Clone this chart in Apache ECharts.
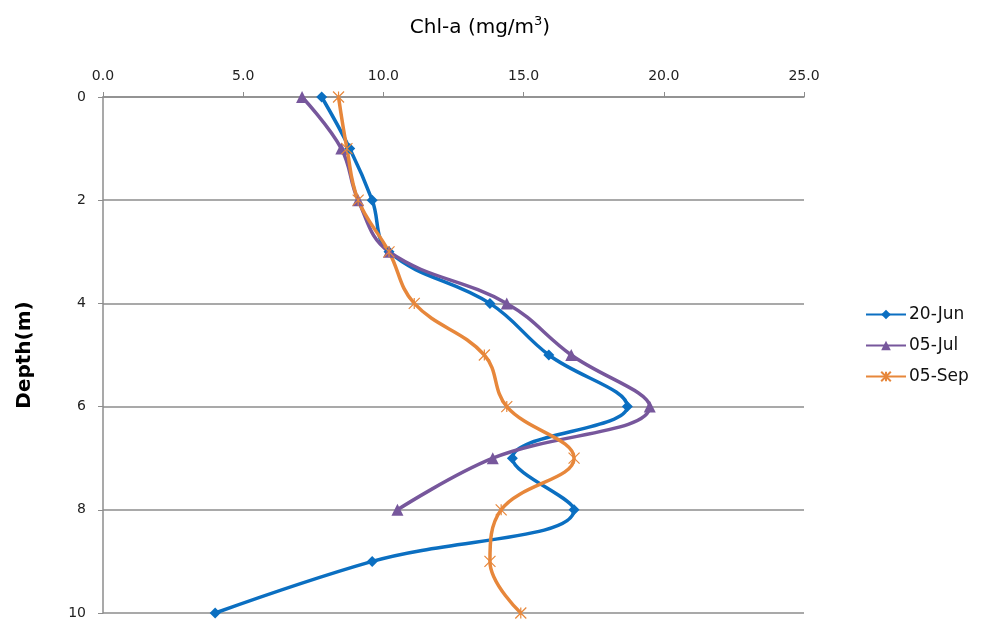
<!DOCTYPE html>
<html><head><meta charset="utf-8">
<script src="https://cdn.jsdelivr.net/npm/echarts@6/dist/echarts.min.js"></script>
<style>html,body{margin:0;padding:0;background:#fff}#c{width:990px;height:627px}</style>
</head><body><div id="c"></div>
<script>
const depths = [0, 1, 2, 3, 4, 5, 6, 7, 8, 9, 10];
const jun20 = [7.8, 8.8, 9.6, 10.2, 13.8, 15.9, 18.7, 14.6, 16.8, 9.6, 4.0];
const jul05 = [7.1, 8.5, 9.1, 10.2, 14.4, 16.7, 19.5, 13.9, 10.5];
const sep05 = [8.4, 8.7, 9.1, 10.2, 11.1, 13.6, 14.4, 16.8, 14.2, 13.8, 14.9];
const xTicks = [0, 5, 10, 15, 20, 25];
const yTicks = [0, 2, 4, 6, 8, 10];
const names = ['20-Jun', '05-Jul', '05-Sep'];
const colors = ['#0b6fc1', '#77579c', '#e7873b'];

function pairs(vals){ return vals.map((v,i)=>[v, depths[i]]); }
const FONT = '"DejaVu Sans", sans-serif';
const chart = echarts.init(document.getElementById('c'));
const mk = (name, vals, color, symbol, size) => ({
  name, type:'line', data: pairs(vals), smooth: 0.4,
  symbol, symbolSize: size,
  lineStyle:{color, width:3.5},
  itemStyle:{color, borderColor: color, borderWidth: symbol.startsWith('path')?1.2:0},
  emphasis:{disabled:true}
});
chart.setOption({
  animation:false,
  title:{
    text:'{a|Chl-a (mg/m}{s|3}{a|)}', left: 475, top: 10, textAlign:'center',
    textStyle:{fontWeight:'normal', rich:{
      a:{fontFamily:FONT, fontSize:20, fontWeight:'normal', color:'#000', lineHeight:26},
      s:{fontFamily:FONT, fontSize:13, fontWeight:'normal', color:'#000', verticalAlign:'top', lineHeight:26, padding:[0,0,9,0]}
    }}
  },
  legend:{
    orient:'vertical', left: 860, top: 301, itemGap: 14,
    itemWidth: 40, itemHeight: 12,
    data: names,
    textStyle:{fontFamily:FONT, fontSize:17, color:'#111', padding:[0,0,0,-2]}
  },
  grid:{left:103, right:186, top:97, bottom:14, containLabel:false},
  xAxis:{
    type:'value', position:'top', min:0, max:25, interval:5,
    axisLine:{show:true, lineStyle:{color:'#8c8c8c', width:1.5}},
    axisTick:{show:true, length:5, lineStyle:{color:'#8c8c8c'}},
    axisLabel:{formatter: v=>v.toFixed(1), fontFamily:FONT, fontSize:14, color:'#222', margin:14},
    splitLine:{show:false}
  },
  yAxis:{
    type:'value', inverse:true, min:0, max:10, interval:2,
    name:'Depth(m)', nameLocation:'middle', nameGap:68, nameRotate:90,
    nameTextStyle:{fontFamily:FONT, fontSize:20, color:'#000', fontWeight:'bold'},
    axisLine:{show:true, lineStyle:{color:'#8c8c8c', width:1.5}},
    axisTick:{show:true, length:5, lineStyle:{color:'#8c8c8c'}},
    axisLabel:{fontFamily:FONT, fontSize:14, color:'#222', margin:17},
    splitLine:{show:true, lineStyle:{color:'#8c8c8c', width:1.5}}
  },
  series:[
    mk(names[0], jun20, colors[0], 'diamond', 11),
    mk(names[1], jul05, colors[1], 'triangle', 12),
    mk(names[2], sep05, colors[2], 'path://M0,0L10,10M10,0L0,10M5,0L5,10', 11)
  ]
});
</script></body></html>
